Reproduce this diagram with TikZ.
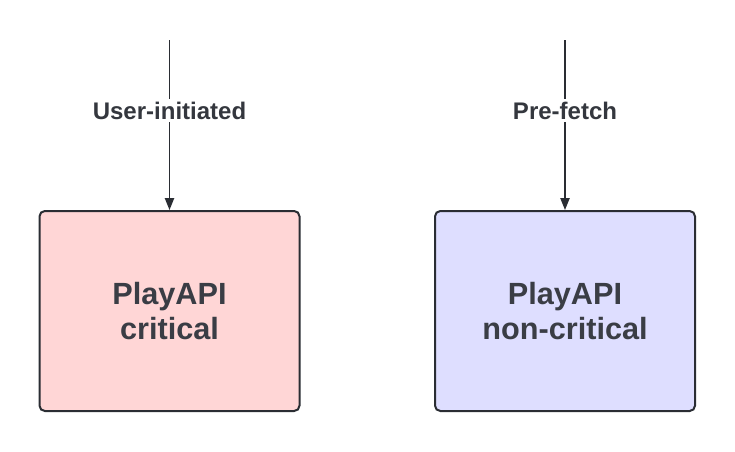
\documentclass[tikz,border=0pt]{standalone}
\usepackage{fontspec}
\setmainfont{Liberation Sans}
\usetikzlibrary{arrows.meta, positioning}

\definecolor{critfill}{HTML}{FFD6D6}
\definecolor{noncritfill}{HTML}{DEDEFF}
\definecolor{boxline}{HTML}{2A2D33}
\definecolor{textgrey}{HTML}{3A3D45}

\begin{document}
\begin{tikzpicture}[
  x=0.75pt, y=-0.75pt,
  apibox/.style={draw=boxline, line width=1.5pt, rounded corners=4pt,
                 minimum width=195pt, minimum height=150pt, align=center,
                 text=textgrey, font=\bfseries\fontsize{23}{26.5}\selectfont},
  flowline/.style={line width=1pt, boxline, -{Triangle[length=9pt, width=7pt]}},
  flowlabel/.style={fill=white, text=textgrey!90!black, inner sep=2pt, pos=0.415,
                    font=\bfseries\fontsize{18}{21}\selectfont},
]
\useasboundingbox (0,0) rectangle (735,451);

%% ============ BOXES ============
\node[apibox, fill=critfill]    (critical)    at (169.5,311) {PlayAPI\\critical};
\node[apibox, fill=noncritfill] (noncritical) at (565,311)   {PlayAPI\\non-critical};

%% ============ INCOMING REQUESTS ============
\coordinate (usersrc)  at (169.5,40);
\coordinate (fetchsrc) at (565,40);

\draw[flowline] (usersrc) -- node[flowlabel] {User-initiated} (critical.north);
\draw[flowline] (fetchsrc) -- node[flowlabel] {Pre-fetch} (noncritical.north);

\end{tikzpicture}
\end{document}
